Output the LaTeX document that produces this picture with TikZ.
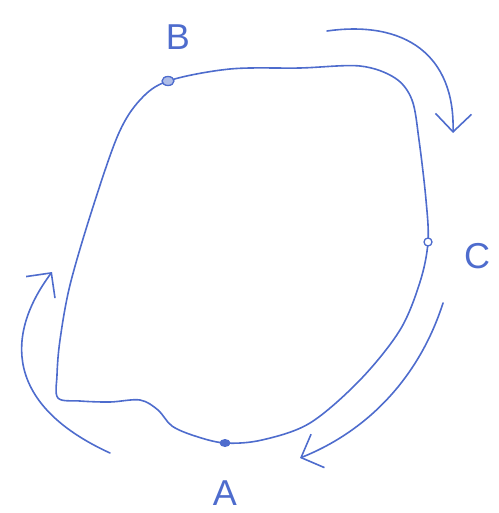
\documentclass[tikz,border=0pt]{standalone}
\usepackage{fontspec}
\setmainfont{Liberation Sans}
\usepackage{tikz}
\usetikzlibrary{arrows.meta}

\definecolor{pen}{RGB}{78,108,205}

\begin{document}
\begin{tikzpicture}[x=1pt, y=-1pt, pen, line width=1.6pt, line cap=round, line join=round,
    >={Straight Barb[length=18pt,width=36pt,line width=1.6pt]},
    lbl/.style={font=\fontsize{36}{40}\selectfont, inner sep=0pt}]
    \useasboundingbox (0,0) rectangle (498,513);

    % punti sulla curva
    \coordinate (A) at (225,443);
    \coordinate (B) at (168,81);
    \coordinate (C) at (428,242);

    % curva chiusa
    \draw plot[smooth cycle, tension=0.55] coordinates {
        (A) (262,440) (310,423) (360,380) (400,330) (420,282)
        (C) (426,200) (419,140) (412,100) (395,78) (360,66) (300,68) (230,69)
        (B) (140,100) (118,135) (92,210) (70,285) (60,340) (57,375) (58,398)
        (80,401) (110,402) (140,400) (158,410) (172,426) (195,436)};

    % segni dei punti
    \fill (A) ellipse (5.5 and 4);
    \draw[line width=1.3pt, fill=pen!45] (B) ellipse (6 and 4.5);
    \draw[line width=1.3pt, fill=white] (C) circle (4);

    % etichette
    \node[lbl] (labA) at (225,493) {A};
    \node[lbl] (labB) at (178,37) {B};
    \node[lbl] (labC) at (477,256) {C};

    % frecce del verso di percorrenza
    \draw[->] (327,31) .. controls (405,20) and (455,55) .. (453,133);
    \draw[->] (443,303) .. controls (420,375) and (370,430) .. (300,458);
    \draw[->] (110,453) .. controls (5,405) and (5,335) .. (52,272);
\end{tikzpicture}
\end{document}
